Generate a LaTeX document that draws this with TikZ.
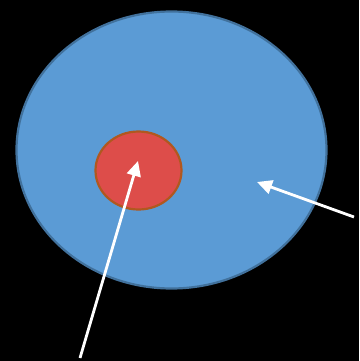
\documentclass[tikz,border=0pt]{standalone}
\usetikzlibrary{shapes.geometric,arrows.meta}
\definecolor{bigfill}{HTML}{5B9BD5}
\definecolor{bigline}{HTML}{41719C}
\definecolor{redfill}{HTML}{DD4D4A}
\definecolor{redline}{HTML}{B0581F}
\tikzset{
  blob/.style={ellipse, inner sep=0pt, line width=2.2pt},
  pointer/.style={draw=white, line width=2.8pt, -{Triangle[length=15pt,width=14pt]}}
}
\begin{document}
\begin{tikzpicture}[x=1pt,y=-1pt]
\fill[black] (0,0) rectangle (359,361);
\useasboundingbox (0,0) rectangle (359,361);
\node[blob, fill=bigfill, draw=bigline, minimum width=310pt, minimum height=277pt] (big) at (171.5,150) {};
\node[blob, fill=redfill, draw=redline, minimum width=86pt, minimum height=78pt] (small) at (138.5,170.5) {};
\coordinate (s1) at (80,358);
\coordinate (t1) at (138,161);
\coordinate (s2) at (354,217);
\coordinate (t2) at (257,182);
\draw[pointer] (s1) -- (t1);
\draw[pointer] (s2) -- (t2);
\end{tikzpicture}
\end{document}
